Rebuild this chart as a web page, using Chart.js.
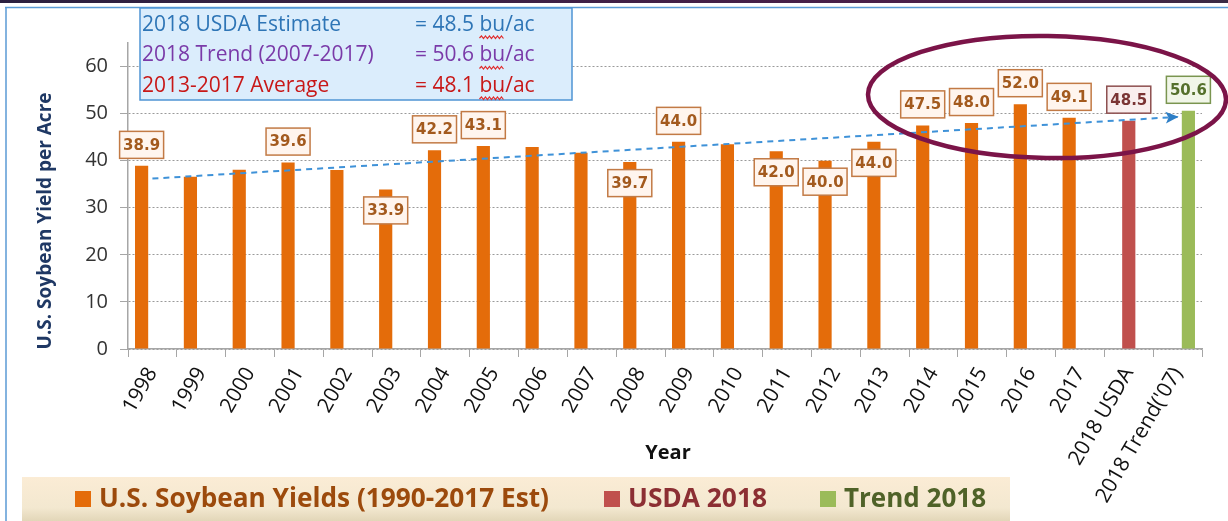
<!DOCTYPE html>
<html>
<head>
<meta charset="utf-8">
<script src="https://cdn.jsdelivr.net/npm/chart.js@4"></script>
<style>html,body{margin:0;padding:0;background:#fff}</style>
</head>
<body>
<canvas id="graph" width="1228" height="521"></canvas>
<script>
// data
const years = ['1998','1999','2000','2001','2002','2003','2004','2005','2006','2007','2008','2009','2010','2011','2012','2013','2014','2015','2016','2017','2018 USDA',"2018 Trend('07)"]
const usYields = [38.9, 36.6, 38.1, 39.6, 38.0, 33.9, 42.2, 43.1, 42.9, 41.7, 39.7, 44.0, 43.5, 42.0, 40.0, 44.0, 47.5, 48.0, 52.0, 49.1, null, null]
const usda2018 = [null, null, null, null, null, null, null, null, null, null, null, null, null, null, null, null, null, null, null, null, 48.5, null]
const trend2018 = [null, null, null, null, null, null, null, null, null, null, null, null, null, null, null, null, null, null, null, null, null, 50.6]
const trendLine = [36.2, null, null, null, null, null, null, null, null, null, null, null, null, null, null, null, null, null, null, null, null, 49.3]
const yTicks = [0, 10, 20, 30, 40, 50, 60]

const noteNames = ['2018 USDA Estimate', '2018 Trend (2007-2017)', '2013-2017 Average']
const noteValues = ['= 48.5 bu/ac', '= 50.6 bu/ac', '= 48.1 bu/ac']

// where the value boxes sit: u = above the bar, d = below the top, '' = none
const labelSide = ['u','','','u','','d','u','u','','','d','u','','d','d','d','u','u','u','u','u','u']

const labelStyle = {
  1: {text:'#a35a1e', border:'#c27a45', fill:'#fff5ee'},
  2: {text:'#7a3434', border:'#8d4f4f', fill:'#f9eeee'},
  3: {text:'#55702c', border:'#7a9550', fill:'#f1f6e8'}
}

function box(c, txt, x, y, st) {
  c.font = 'bold 15px "DejaVu Sans"'
  const w = c.measureText(txt).width + 7
  const h = 27
  c.fillStyle = st.fill
  c.fillRect(x - w/2, y - h/2, w, h)
  c.lineWidth = 1.5
  c.strokeStyle = st.border
  c.strokeRect(x - w/2, y - h/2, w, h)
  c.fillStyle = st.text
  c.textAlign = 'center'
  c.textBaseline = 'middle'
  c.fillText(txt, x, y + 1)
}

function squiggle(c, x0, x1, y) {
  c.beginPath()
  c.strokeStyle = '#e02a2a'
  c.lineWidth = 1.2
  let up = true
  c.moveTo(x0, y)
  for (let x = x0 + 2; x <= x1; x += 2) {
    c.lineTo(x, up ? y - 2 : y + 0.5)
    up = !up
  }
  c.stroke()
}

const decor = {
  id: 'decor',
  beforeDraw(chart) {
    const c = chart.ctx
    c.save()
    c.fillStyle = '#fff'
    c.fillRect(0, 0, chart.width, chart.height)
    const g = c.createLinearGradient(0, 0, chart.width, 0)
    g.addColorStop(0, '#2b2040')
    g.addColorStop(0.8, '#4d1f4b')
    g.addColorStop(1, '#3a2a44')
    c.fillStyle = g
    c.fillRect(0, 0, chart.width, 3)
    c.strokeStyle = '#5b9bd5'
    c.lineWidth = 1.5
    c.beginPath()
    c.moveTo(5, 7.5); c.lineTo(chart.width, 7.5)
    c.moveTo(6, 7.5); c.lineTo(6, chart.height)
    c.stroke()
    c.restore()
  },
  afterDatasetsDraw(chart) {
    const c = chart.ctx
    c.save()
    // arrow head at end of trend line
    const pts = chart.getDatasetMeta(0).data
    const a = pts[0], b = pts[pts.length - 1]
    const ang = Math.atan2(b.y - a.y, b.x - a.x)
    c.translate(b.x, b.y)
    c.rotate(ang)
    c.fillStyle = '#2e7fc6'
    c.beginPath()
    c.moveTo(1, 0); c.lineTo(-12, -6); c.lineTo(-9, 0); c.lineTo(-12, 6)
    c.closePath()
    c.fill()
    c.restore()

    c.save()
    for (let d = 1; d <= 3; d++) {
      const meta = chart.getDatasetMeta(d)
      const vals = chart.data.datasets[d].data
      meta.data.forEach((el, i) => {
        if (vals[i] == null || !labelSide[i]) return
        const y = labelSide[i] == 'u' ? el.y - 21 : el.y + 21
        box(c, vals[i].toFixed(1), el.x, y, labelStyle[d])
      })
    }
    c.restore()
  },
  afterDraw(chart) {
    const c = chart.ctx
    c.save()
    // note box top left
    c.fillStyle = '#dbedfc'
    c.fillRect(140, 8, 432, 92)
    c.strokeStyle = '#4f94d4'
    c.lineWidth = 1.5
    c.strokeRect(140, 8, 432, 92)
    const noteColors = ['#2e75b6', '#7a3aa8', '#c81818']
    c.font = '21px "Open Sans"'
    c.textAlign = 'left'
    c.textBaseline = 'middle'
    noteNames.forEach((t, i) => {
      const y = 25 + i * 30.5
      c.fillStyle = noteColors[i]
      c.fillText(t, 142, y)
      c.fillText(noteValues[i], 415, y)
      const pre = c.measureText(noteValues[i].slice(0, 7)).width
      const bu = c.measureText('bu').width
      squiggle(c, 415 + pre, 415 + pre + bu, y + 13)
    })

    // ellipse round the last years
    c.beginPath()
    c.strokeStyle = '#7b1448'
    c.lineWidth = 4.5
    c.ellipse(1047, 97, 179, 61, 0.015, 0, Math.PI * 2)
    c.stroke()

    // axis titles
    c.fillStyle = '#1f3864'
    c.font = 'bold 19px "Open Sans"'
    c.textAlign = 'center'
    c.textBaseline = 'middle'
    c.translate(46, 221)
    c.rotate(-Math.PI / 2)
    c.fillText('U.S. Soybean Yield per Acre', 0, 0)
    c.restore()

    c.save()
    c.fillStyle = '#111'
    c.font = 'bold 20px "Open Sans"'
    c.textAlign = 'center'
    c.textBaseline = 'middle'
    c.fillText('Year', 668, 453)

    // legend strip
    const lg = c.createLinearGradient(0, 477, 0, 521)
    lg.addColorStop(0, '#fbecd5')
    lg.addColorStop(0.7, '#f3e8d0')
    lg.addColorStop(1, '#e2d6b8')
    c.fillStyle = lg
    c.fillRect(22, 477, 988, 44)
    const legX = [75, 604, 820]
    const legW = [450, 139, 142]
    const legText = ['#9c4a0c', '#8c2f33', '#4f6228']
    c.textAlign = 'left'
    c.font = 'bold 26px "Open Sans"'
    for (let d = 1; d <= 3; d++) {
      const ds = chart.data.datasets[d]
      const x = legX[d - 1]
      c.fillStyle = ds.backgroundColor
      c.fillRect(x, 491, 16, 16)
      const w = c.measureText(ds.label).width
      c.save()
      c.translate(x + 24, 500)
      c.scale(legW[d - 1] / w, 1)
      c.fillStyle = legText[d - 1]
      c.fillText(ds.label, 0, 0)
      c.restore()
    }
    c.restore()
  }
}

new Chart(document.getElementById('graph').getContext('2d'), {
  type: 'bar',
  data: {
    labels: years,
    datasets: [{
      type: 'line',
      label: 'Trend',
      data: trendLine,
      borderColor: '#3f92d8',
      borderWidth: 2,
      borderDash: [6, 5],
      pointRadius: 0,
      spanGaps: true,
      order: 0
    }, {
      label: 'U.S. Soybean Yields (1990-2017 Est)',
      data: usYields,
      backgroundColor: '#e46c0a',
      categoryPercentage: 0.664,
      barPercentage: 1.22,
      order: 1
    }, {
      label: 'USDA 2018',
      data: usda2018,
      backgroundColor: '#c0504d',
      categoryPercentage: 0.664,
      barPercentage: 1.22,
      order: 1
    }, {
      label: 'Trend 2018',
      data: trend2018,
      backgroundColor: '#9bbb59',
      categoryPercentage: 0.664,
      barPercentage: 1.22,
      order: 1
    }]
  },
  options: {
    responsive: false,
    animation: false,
    devicePixelRatio: 1,
    layout: {padding: {top: 43, right: 26, left: 0, bottom: 0}},
    plugins: {legend: {display: false}, tooltip: {enabled: false}},
    scales: {
      x: {
        grid: {offset: true, drawOnChartArea: false, color: '#a6a6a6', tickLength: 8},
        border: {color: '#a6a6a6', width: 1.5},
        ticks: {color: '#111', font: {family: '"Open Sans"', size: 21}, minRotation: 60, maxRotation: 60, autoSkip: false, padding: 6},
        afterFit(s) { s.height = 172 }
      },
      y: {
        min: 0, max: 65,
        afterBuildTicks(s) { s.ticks = yTicks.map(v => ({value: v})) },
        ticks: {color: '#333', font: {family: '"Open Sans"', size: 20}, padding: 12},
        grid: {color: '#9a9a9a', tickLength: 8, tickColor: '#a6a6a6', tickBorderDash: [1, 0]},
        border: {color: '#a6a6a6', width: 1.5, dash: [2, 2]},
        afterFit(s) { s.width = 128 }
      }
    }
  },
  plugins: [decor]
})
</script>
</body>
</html>
